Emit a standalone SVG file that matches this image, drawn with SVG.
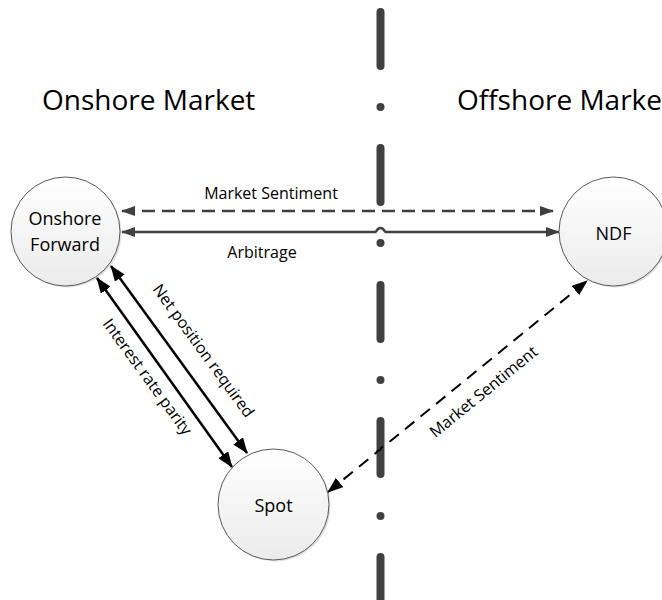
<svg xmlns="http://www.w3.org/2000/svg" width="662" height="600" viewBox="0 0 662 600">
<style>
.title{font-family:"Open Sans","Liberation Sans",sans-serif;font-size:28px;fill:#000}
.nodeText{font-family:"Open Sans","Liberation Sans",sans-serif;font-size:18px;fill:#000;text-anchor:middle}
.lbl{font-family:"Open Sans","Liberation Sans",sans-serif;font-size:16px;fill:#000;text-anchor:middle}
.node{fill:url(#g);stroke:#595959;stroke-width:1}
.shadow{fill:#000;opacity:0.12}
.vdash{stroke:#404040;stroke-width:8;stroke-linecap:round}
.vdot{fill:#404040}
.gray{fill:none;stroke:#404040;stroke-width:2.5}
.black{fill:none;stroke:#000;stroke-width:2.5}
</style>
<defs>
<linearGradient id="g" x1="0" y1="0" x2="0" y2="1">
<stop offset="0" stop-color="#ffffff"/>
<stop offset="1" stop-color="#ebebeb"/>
</linearGradient>
<marker id="ahG" viewBox="0 0 14 10" refX="13" refY="5" markerWidth="14" markerHeight="10" markerUnits="userSpaceOnUse" orient="auto-start-reverse"><path d="M0,0 L14,5 L0,10 z" fill="#404040"/></marker>
<marker id="ahB" viewBox="0 0 16 12" refX="15" refY="6" markerWidth="16" markerHeight="12" markerUnits="userSpaceOnUse" orient="auto-start-reverse"><path d="M0,0 L16,6 L0,12 z" fill="#000"/></marker>
</defs>

<g id="border-line">
<line class="vdash" x1="380.5" y1="12" x2="380.5" y2="66"/>
<circle class="vdot" cx="380.5" cy="107" r="4"/>
<line class="vdash" x1="380.5" y1="148" x2="380.5" y2="202"/>
<circle class="vdot" cx="380.5" cy="243" r="4"/>
<line class="vdash" x1="380.5" y1="285" x2="380.5" y2="339"/>
<circle class="vdot" cx="380.5" cy="380" r="4"/>
<line class="vdash" x1="380.5" y1="421" x2="380.5" y2="474"/>
<circle class="vdot" cx="380.5" cy="516" r="4"/>
<line class="vdash" x1="380.5" y1="557" x2="380.5" y2="612"/>
</g>

<g id="titles">
<text class="title" x="42" y="110">Onshore Market</text>
<text class="title" x="457" y="110">Offshore Marke</text>
</g>

<g id="connectors">
<path class="gray" d="M122,211 H553" stroke-dasharray="13 7" marker-start="url(#ahG)" marker-end="url(#ahG)"/>
<path class="gray" d="M122,232 H375.5 c1,0 1.5,-4 5,-4 c3.5,0 4,4 5,4 H559" marker-start="url(#ahG)" marker-end="url(#ahG)"/>
<path class="black" d="M97,278 L232,467" marker-start="url(#ahB)" marker-end="url(#ahB)"/>
<path class="black" d="M111,266 L247,453" marker-start="url(#ahB)" marker-end="url(#ahB)"/>
<path fill="none" stroke="#000" stroke-width="2" stroke-dasharray="12 8" d="M328,492 L376.6,452.4 c1,-3 3,-1 4,-3 c1,-2 0,-2 3.8,-3.4 L587,281" marker-start="url(#ahB)" marker-end="url(#ahB)"/>
<text class="lbl" x="271" y="199">Market Sentiment</text>
<text class="lbl" x="262" y="258">Arbitrage</text>
<text class="lbl" transform="translate(199,354) rotate(54)">Net position required</text>
<text class="lbl" transform="translate(143,380) rotate(54)">Interest rate parity</text>
<text class="lbl" transform="translate(487,396) rotate(-39.2)">Market Sentiment</text>
</g>

<g id="onshore-forward">
<circle class="shadow" cx="67" cy="233" r="54.5"/>
<circle class="node" cx="65.5" cy="231.5" r="54.5"/>
<text class="nodeText" x="65" y="225">Onshore</text>
<text class="nodeText" x="65" y="251">Forward</text>
</g>

<g id="ndf">
<circle class="shadow" cx="615" cy="233" r="54.5"/>
<circle class="node" cx="613.5" cy="231.5" r="54.5"/>
<text class="nodeText" x="613.5" y="240">NDF</text>
</g>

<g id="spot">
<circle class="shadow" cx="275" cy="506" r="55.5"/>
<circle class="node" cx="273.5" cy="504.5" r="55.5"/>
<text class="nodeText" x="273.5" y="512">Spot</text>
</g>
</svg>
